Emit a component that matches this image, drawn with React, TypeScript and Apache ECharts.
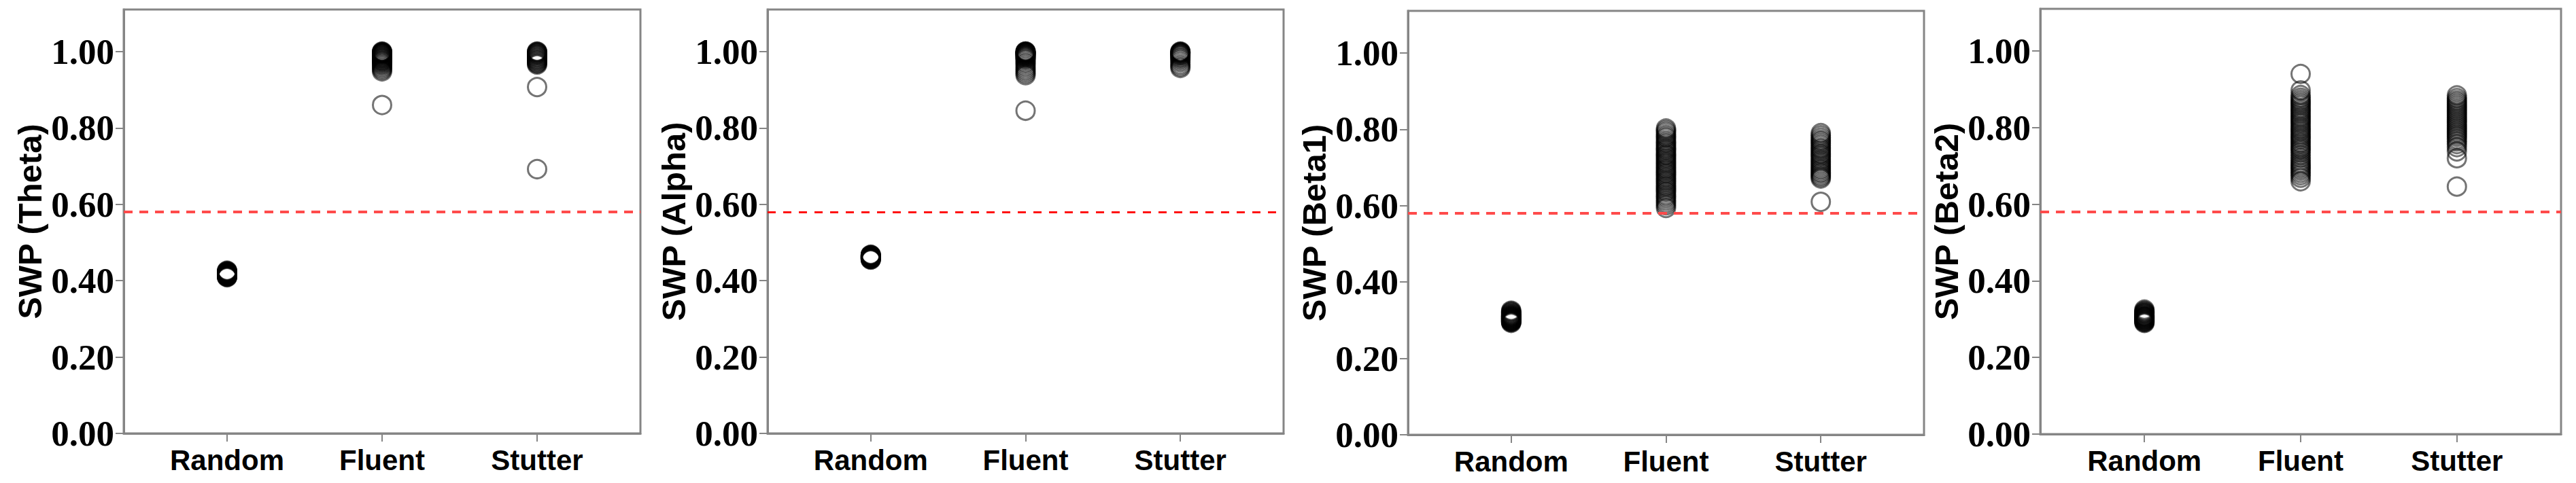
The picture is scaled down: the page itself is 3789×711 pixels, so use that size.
import React, { useEffect, useRef } from 'react';
import * as echarts from 'echarts';

const categories = ['Random', 'Fluent', 'Stutter'];
const yTicks = [0, 0.2, 0.4, 0.6, 0.8, 1.0];
const threshold = 0.58;
const panelTitles = ['SWP (Theta)', 'SWP (Alpha)', 'SWP (Beta1)', 'SWP (Beta2)'];

const thetaRandom = [0.409, 0.41, 0.411, 0.412, 0.412, 0.413, 0.414, 0.414, 0.415, 0.416, 0.416, 0.417, 0.418, 0.418, 0.419, 0.42, 0.42, 0.421, 0.422, 0.422, 0.423, 0.424, 0.425, 0.426];
const thetaFluent = [1.0, 0.999, 0.998, 0.997, 0.996, 0.995, 0.994, 0.993, 0.991, 0.99, 0.988, 0.987, 0.985, 0.983, 0.982, 0.98, 0.978, 0.976, 0.975, 0.972, 0.97, 0.967, 0.964, 0.96, 0.956, 0.952, 0.948, 0.86];
const thetaStutter = [1.0, 0.999, 0.998, 0.996, 0.995, 0.993, 0.991, 0.99, 0.987, 0.985, 0.983, 0.98, 0.978, 0.976, 0.973, 0.971, 0.968, 0.966, 0.907, 0.692];

const alphaRandom = [0.455, 0.456, 0.457, 0.458, 0.458, 0.459, 0.46, 0.46, 0.461, 0.462, 0.462, 0.463, 0.464, 0.464, 0.465, 0.466, 0.466, 0.467, 0.468];
const alphaFluent = [1.0, 1.0, 0.999, 0.998, 0.997, 0.996, 0.995, 0.994, 0.993, 0.991, 0.99, 0.989, 0.987, 0.985, 0.983, 0.98, 0.977, 0.972, 0.968, 0.963, 0.958, 0.953, 0.948, 0.943, 0.938, 0.845];
const alphaStutter = [1.0, 0.999, 0.998, 0.997, 0.996, 0.995, 0.993, 0.991, 0.99, 0.987, 0.984, 0.981, 0.977, 0.972, 0.966, 0.961, 0.957];

const beta1Random = [0.293, 0.295, 0.296, 0.297, 0.298, 0.299, 0.3, 0.301, 0.302, 0.303, 0.304, 0.305, 0.306, 0.307, 0.308, 0.309, 0.31, 0.311, 0.312, 0.314, 0.315, 0.317, 0.319, 0.321, 0.323, 0.325];
const beta1Fluent = [0.802, 0.797, 0.792, 0.786, 0.781, 0.777, 0.771, 0.766, 0.762, 0.757, 0.752, 0.748, 0.744, 0.739, 0.734, 0.731, 0.726, 0.722, 0.717, 0.713, 0.709, 0.704, 0.699, 0.695, 0.691, 0.686, 0.682, 0.677, 0.672, 0.667, 0.663, 0.658, 0.653, 0.649, 0.644, 0.639, 0.635, 0.629, 0.624, 0.619, 0.613, 0.607, 0.601, 0.594];
const beta1Stutter = [0.79, 0.784, 0.778, 0.772, 0.768, 0.763, 0.758, 0.752, 0.748, 0.743, 0.737, 0.733, 0.728, 0.722, 0.717, 0.712, 0.707, 0.702, 0.697, 0.693, 0.688, 0.684, 0.679, 0.675, 0.671, 0.61];

const beta2Random = [0.29, 0.292, 0.293, 0.295, 0.296, 0.297, 0.299, 0.3, 0.301, 0.302, 0.304, 0.305, 0.306, 0.307, 0.308, 0.31, 0.311, 0.313, 0.315, 0.316, 0.318, 0.32, 0.322, 0.325];
const beta2Fluent = [0.94, 0.897, 0.885, 0.878, 0.872, 0.867, 0.862, 0.857, 0.851, 0.846, 0.841, 0.836, 0.83, 0.825, 0.82, 0.815, 0.81, 0.804, 0.799, 0.794, 0.789, 0.783, 0.778, 0.773, 0.768, 0.762, 0.757, 0.751, 0.746, 0.741, 0.735, 0.728, 0.721, 0.714, 0.708, 0.703, 0.698, 0.693, 0.688, 0.682, 0.676, 0.669, 0.66];
const beta2Stutter = [0.884, 0.877, 0.871, 0.866, 0.861, 0.856, 0.851, 0.846, 0.841, 0.836, 0.831, 0.826, 0.821, 0.816, 0.811, 0.806, 0.801, 0.796, 0.791, 0.786, 0.781, 0.776, 0.77, 0.764, 0.757, 0.749, 0.738, 0.72, 0.646];

const panelGroups = [
  [thetaRandom, thetaFluent, thetaStutter],
  [alphaRandom, alphaFluent, alphaStutter],
  [beta1Random, beta1Fluent, beta1Stutter],
  [beta2Random, beta2Fluent, beta2Stutter],
];

const grids = [
  { left: 182, top: 14, width: 760, height: 624 },
  { left: 1129, top: 14, width: 759, height: 624 },
  { left: 2071, top: 16, width: 759, height: 624 },
  { left: 3001, top: 13, width: 766, height: 626 },
];

const lineStyles = [
  { color: '#ff4b4b', width: 4, type: [13, 10] },
  { color: '#ff1010', width: 3, type: [12, 11] },
  { color: '#ff4b4b', width: 4, type: [13, 10] },
  { color: '#ff4b4b', width: 4, type: [13, 10] },
];

const AXIS_GRAY = '#858585';

export default function App() {
  const ref = useRef<HTMLDivElement>(null);
  useEffect(() => {
    if (!ref.current) return;
    const chart = echarts.init(ref.current, undefined, { renderer: 'svg' });
    const option: any = {
      animation: false,
      backgroundColor: '#ffffff',
      grid: grids.map((g) => ({
        ...g,
        show: true,
        borderColor: AXIS_GRAY,
        borderWidth: 3,
        backgroundColor: 'transparent',
        containLabel: false,
      })),
      xAxis: grids.map((_, i) => ({
        type: 'value',
        gridIndex: i,
        min: -2 / 3,
        max: 8 / 3,
        splitLine: { show: false },
        axisLine: { show: true, onZero: false, lineStyle: { color: AXIS_GRAY, width: 3 } },
        axisTick: {
          show: true,
          customValues: [0, 1, 2],
          length: 12,
          lineStyle: { color: AXIS_GRAY, width: 2 },
        },
        axisLabel: {
          customValues: [0, 1, 2],
          formatter: (v: number) => categories[Math.round(v)] ?? '',
          fontFamily: 'Liberation Sans',
          fontWeight: 'bold',
          fontSize: 42,
          color: '#000',
          margin: 18,
        },
      })),
      yAxis: grids.map((_, i) => ({
        type: 'value',
        gridIndex: i,
        min: 0,
        max: 1.11,
        name: panelTitles[i],
        nameLocation: 'middle',
        nameRotate: 90,
        nameGap: 114,
        nameTextStyle: {
          fontFamily: 'Liberation Sans',
          fontWeight: 'bold',
          fontSize: 49,
          color: '#000',
        },
        splitLine: { show: false },
        axisLine: { show: true, onZero: false, lineStyle: { color: AXIS_GRAY, width: 3 } },
        axisTick: {
          show: true,
          customValues: yTicks,
          length: 12,
          lineStyle: { color: AXIS_GRAY, width: 2 },
        },
        axisLabel: {
          customValues: yTicks,
          formatter: (v: number) => v.toFixed(2),
          fontFamily: 'Liberation Serif',
          fontWeight: 'bold',
          fontSize: 53,
          color: '#000',
          margin: 14,
          padding: [0, 0, 16, 0],
        },
      })),
      series: panelGroups.map((groups, i) => ({
        type: 'scatter',
        xAxisIndex: i,
        yAxisIndex: i,
        symbol: 'circle',
        symbolSize: 27,
        silent: true,
        itemStyle: {
          color: 'rgba(0,0,0,0)',
          borderColor: 'rgba(0,0,0,0.68)',
          borderWidth: 3,
        },
        data: groups.flatMap((vals, ci) => vals.map((v) => [ci, v])),
        markLine: {
          silent: true,
          symbol: 'none',
          label: { show: false },
          lineStyle: lineStyles[i],
          data: [{ yAxis: threshold }],
        },
      })),
    };
    chart.setOption(option);
    return () => chart.dispose();
  }, []);
  return (
    <div
      ref={ref}
      style={{ position: 'fixed', left: 0, top: 0, width: 3789, height: 711, background: '#fff' }}
    />
  );
}
